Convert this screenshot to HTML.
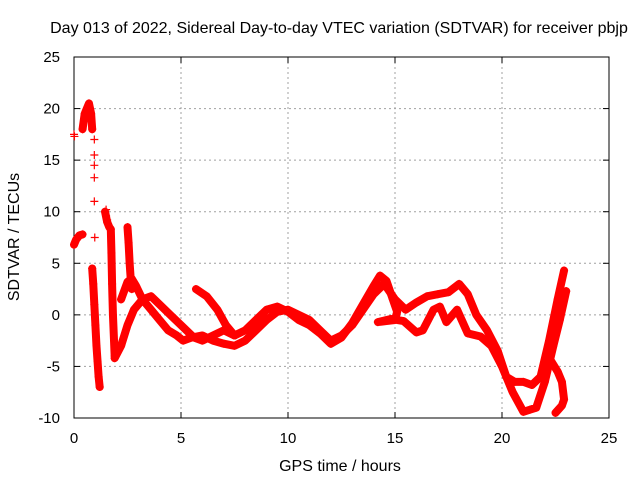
<!DOCTYPE html>
<html><head><meta charset="utf-8"><style>
body{margin:0;background:#fff;}
svg{display:block;font-family:"Liberation Sans",sans-serif;font-size:15px;}
</style></head><body>
<svg id="chart" width="640" height="480" viewBox="0 0 640 480" xmlns="http://www.w3.org/2000/svg">
<rect width="640" height="480" fill="#fff"/>
<text x="339" y="33" text-anchor="middle" font-size="16">Day 013 of 2022, Sidereal Day-to-day VTEC variation (SDTVAR) for receiver pbjp</text>
<text x="340" y="471" text-anchor="middle" font-size="16">GPS time / hours</text>
<text transform="translate(19,237) rotate(-90)" text-anchor="middle" font-size="16">SDTVAR / TECUs</text>
<g id="grid"></g><g id="axes"></g><g id="marks"></g>
</svg>
<script>
const xTicks=[0,5,10,15,20,25];
const yTicks=[-10,-5,0,5,10,15,20,25];
const bandAT=[1.9,2.2,2.5,2.8,3.2,3.6,4.0,4.5,5.0,5.6,6.0,6.5,7.0,7.5,8.0,8.5,9.0,9.5,10.0,10.5,11.0,11.5,12.0,12.5,13.0,13.5,14.0,14.3,14.6,14.9,15.1,15.0,14.6,14.2,14.8,15.4,16.0,16.3,16.8,17.1,17.4,17.9,18.4,19.0,19.5,20.0,20.5,21.0,21.3,21.6,22.0,22.4,22.7,23.0];
const bandAV=[-4.2,-3.0,-1.0,0.5,1.5,1.8,1.0,0,-1.0,-2.2,-2.5,-2.0,-1.5,-2.0,-1.5,-0.5,0.5,0.8,0.3,-0.5,-1.0,-1.8,-2.8,-2.2,-0.8,1.0,2.8,3.8,3.3,1.5,0.3,-0.5,-0.6,-0.7,-0.4,-0.6,-1.7,-1.5,0.5,0.8,-0.7,0.5,-1.8,-2.1,-3.0,-5.0,-7.5,-9.4,-9.2,-9.0,-6.5,-3.0,-0.5,2.3];
const bandBT=[2.2,2.5,2.7,2.9,3.2,3.6,4.0,4.4,4.8,5.1,5.5,6.0,6.5,7.0,7.5,8.0,8.5,9.0,9.5,10.0,10.5,11.0,11.5,12.0,12.5,13.0,13.5,14.0,14.5,15.0,15.5,16.0,16.5,17.0,17.5,18.0,18.4,18.8,19.3,19.8,20.2,20.6,21.0,21.4,21.8,22.2,22.6,22.9];
const bandBV=[1.5,3.2,3.5,2.8,1.5,0.5,-0.5,-1.5,-2.0,-2.5,-2.2,-2.0,-2.5,-2.8,-3.0,-2.5,-1.5,-0.5,0.3,0.5,0,-0.5,-1.5,-2.5,-2.0,-1.0,0.5,2.0,3.0,1.5,0.5,1.2,1.8,2.0,2.2,3.0,2.0,0,-1.5,-3.5,-6.0,-6.5,-6.5,-6.8,-6.0,-2.5,1.5,4.3];
const bandCT=[22.3,22.6,22.8,22.9,22.8,22.5];
const bandCV=[-4.5,-5.5,-6.5,-8.2,-8.8,-9.5];
const sideT=[5.7,6.2,6.7,7.1,7.5];
const sideV=[2.5,1.8,0.5,-1.0,-2.0];
const e0T=[0,0.1,0.25,0.4];
const e0V=[6.8,7.3,7.7,7.8];
const e1T=[0.4,0.5,0.6,0.7,0.8,0.85];
const e1V=[18,19.5,20,20.5,19.5,18];
const e2T=[0.85,0.9,0.95,1.0,1.05,1.1,1.15,1.2];
const e2V=[4.5,3,1,-1,-3,-4.5,-6,-7];
const e3T=[1.45,1.55,1.65,1.72,1.75,1.78,1.82,1.87,1.9];
const e3V=[10,9,8.5,8.3,6,3,0,-2.5,-4];
const spikeT=[2.5,2.55,2.6,2.65,2.7];
const spikeV=[8.5,7,5,3.5,2.5];
const sparseT=[0,0.02,0.95,0.95,0.95,0.95,0.95,0.97,1.5,1.5,1.55];
const sparseV=[17.5,17.3,17,15.5,14.5,13.3,11,7.5,10.2,9.6,9.2];
const lines=[[bandAT,bandAV],[bandBT,bandBV],[bandCT,bandCV],[sideT,sideV],[e0T,e0V],[e1T,e1V],[e2T,e2V],[e3T,e3V],[spikeT,spikeV]];
const X0=74,X1=609,Y0=418,Y1=57;
function xs(t){return X0+(t-0)/(25-0)*(X1-X0);}
function ys(v){return Y0-(v+10)/35*(Y0-Y1);}
const NS='http://www.w3.org/2000/svg';
function mk(tag,attrs,parent){const e=document.createElementNS(NS,tag);for(const k in attrs)e.setAttribute(k,attrs[k]);parent.appendChild(e);return e;}
const grid=document.getElementById('grid'),axes=document.getElementById('axes'),marks=document.getElementById('marks');
xTicks.forEach(t=>{const x=xs(t);
 if(t>0&&t<25){const g=mk('line',{x1:x,x2:x,y1:Y1,y2:Y0,stroke:'#a0a0a0','stroke-dasharray':'2,3'},grid);
 
 }
 mk('line',{x1:x,x2:x,y1:Y0,y2:Y0-6,stroke:'#000'},axes);
 mk('line',{x1:x,x2:x,y1:Y1,y2:Y1+6,stroke:'#000'},axes);
 const l=mk('text',{x:x,y:Y0+25,'text-anchor':'middle'},axes);l.textContent=t;
 
 
});
yTicks.forEach(v=>{const y=ys(v);
 if(v>-10&&v<25){const g=mk('line',{x1:X0,x2:X1,y1:y,y2:y,stroke:'#a0a0a0','stroke-dasharray':'2,3'},grid);
 
 }
 mk('line',{x1:X0,x2:X0+6,y1:y,y2:y,stroke:'#000'},axes);
 mk('line',{x1:X1,x2:X1-6,y1:y,y2:y,stroke:'#000'},axes);
 const l=mk('text',{x:X0-14,y:y+5,'text-anchor':'end'},axes);l.textContent=v;
 
 
});
const fr=mk('rect',{x:X0,y:Y1,width:X1-X0,height:Y0-Y1,fill:'none',stroke:'#000'},axes);


function plus(t,v){const x=xs(t),y=ys(v);
 const p=mk('path',{d:`M${x-4},${y}H${x+4}M${x},${y-4}V${y+4}`,stroke:'#f00','stroke-width':1.2},marks);
 
 }
lines.forEach(([T,V])=>{
 const pts=T.map((t,i)=>xs(t)+','+ys(V[i])).join(' ');
 const pl=mk('polyline',{points:pts,fill:'none',stroke:'#f00','stroke-width':8,'stroke-linejoin':'round','stroke-linecap':'round'},marks);
 
 
 T.forEach((t,i)=>plus(t,V[i]));
});
sparseT.forEach((t,i)=>plus(t,sparseV[i]));
</script>
</body></html>
